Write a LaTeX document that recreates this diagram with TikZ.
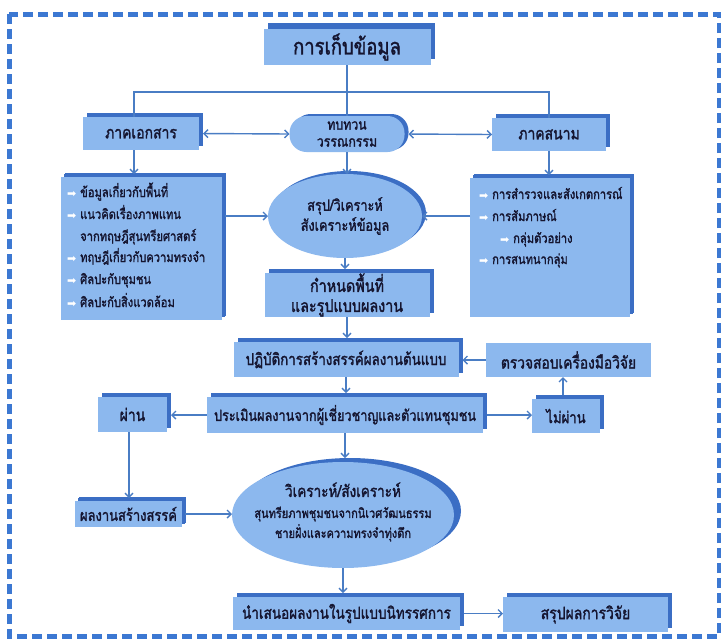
\documentclass[tikz,border=0pt]{standalone}
\usepackage{fontspec}
\newfontfamily\thai[Script=Thai,FakeStretch=0.82,FakeBold=1.6]{Loma}
\newfontfamily\dejavu{DejaVu Sans}
\usetikzlibrary{arrows.meta,shadows,shapes.geometric,calc}
\definecolor{boxblue}{HTML}{8CB8EE}
\definecolor{shadeblue}{HTML}{3B6EC4}
\definecolor{lineblue}{HTML}{4A7DC4}
\definecolor{dashblue}{HTML}{3C78D2}
\definecolor{txt}{HTML}{151530}
\newcommand\blt{\makebox[13pt][l]{\dejavu\fontsize{11}{11}\selectfont\color{white}➡}}
\newcommand\nob{\hspace*{13pt}}
\newcommand\fs[1]{\fontsize{#1}{1.25\dimexpr#1pt\relax}\selectfont}
\begin{document}
\begin{tikzpicture}[x=1pt,y=-1pt,
  base/.style={inner sep=0pt, outer sep=0pt, text=txt, align=center, font=\thai\fs{17}},
  sh/.style 2 args={drop shadow={shadow xshift=#1, shadow yshift=#2, fill=shadeblue, opacity=1}},
  rbox/.style={base, fill=boxblue, sh={4pt}{4pt}},
  flatbox/.style={base, fill=boxblue},
  ell/.style={base, ellipse, fill=boxblue},
  conn/.style={draw=lineblue, line width=1.4pt},
  arr/.style={conn, -{Straight Barb[length=4pt,width=8pt]}},
  darr/.style={conn, {Straight Barb[length=4pt,width=8pt]}-{Straight Barb[length=4pt,width=8pt]}},
  item/.style={anchor=base west, inner sep=0pt, text=txt, font=\thai\fs{13.6}},
]
\fill[white] (0,0) rectangle (721,641);
\useasboundingbox (0,0) rectangle (721,641);
\draw[dashblue, line width=5pt, dash pattern=on 10pt off 5pt] (9,14) rectangle (719,636);

% top row
\node[base, fill=boxblue, sh={4pt}{6pt}, minimum width=167pt, minimum height=36pt,
      font=\thai\fs{22.5}] (title) at (347,47) {การเก็บข้อมูล};
\node[rbox, minimum width=116pt, minimum height=33pt] (doc) at (141,133.5) {ภาคเอกสาร};
\node[base, fill=boxblue, rounded corners=17pt, sh={4pt}{2pt}, minimum width=115pt, minimum height=36pt,
      font=\thai\fontsize{15}{17}\selectfont] (lit) at (347,134) {ทบทวน\\วรรณกรรม};
\node[rbox, minimum width=114pt, minimum height=33pt] (field) at (549,134.5) {ภาคสนาม};

% lists
\node[rbox, sh={3pt}{3pt}, minimum width=161pt, minimum height=143pt] (listL) at (141.5,248.5) {};
\node[rbox, sh={3pt}{3pt}, minimum width=160pt, minimum height=139pt] (listR) at (550,247.5) {};
\node[item] (l1) at (67,197) {\blt ข้อมูลเกี่ยวกับพื้นที่};
\node[item] (l2) at (67,219) {\blt แนวคิดเรื่องภาพแทน};
\node[item] (l3) at (67,241) {\nob จากทฤษฎีสุนทรียศาสตร์};
\node[item] (l4) at (67,262) {\blt ทฤษฎีเกี่ยวกับความทรงจำ};
\node[item] (l5) at (67,284) {\blt ศิลปะกับชุมชน};
\node[item] (l6) at (67,307) {\blt ศิลปะกับสิ่งแวดล้อม};
\node[item] (r1) at (479,199) {\blt การสำรวจและสังเกตการณ์};
\node[item] (r2) at (479,221) {\blt การสัมภาษณ์};
\node[item] (r3) at (500,243) {\blt กลุ่มตัวอย่าง};
\node[item] (r4) at (479,264) {\blt การสนทนากลุ่ม};

% first ellipse
\node[ell, sh={4pt}{3pt}, minimum width=154pt, minimum height=84pt] (e1) at (345,216) {};
\node[base, font=\thai\fontsize{15.5}{20}\selectfont] (e1t) at (345,216) {สรุป/วิเคราะห์\\สังเคราะห์ข้อมูล};

% middle column
\node[rbox, minimum width=165pt, minimum height=44pt, font=\thai\fontsize{17.5}{20}\selectfont] (area) at (347,295) {กำหนดพื้นที่\\และรูปแบบผลงาน};
\node[rbox, minimum width=225pt, minimum height=35pt, font=\thai\fs{16.3}] (proto) at (346,359.5) {ปฏิบัติการสร้างสรรค์ผลงานต้นแบบ};
\node[flatbox, minimum width=165pt, minimum height=34pt, font=\thai\fs{16.8}] (check) at (568.5,360) {ตรวจสอบเครื่องมือวิจัย};
\node[rbox, minimum width=276pt, minimum height=36pt, font=\thai\fs{15.5}] (eval) at (345,415) {ประเมินผลงานจากผู้เชี่ยวชาญและตัวแทนชุมชน};
\node[rbox, minimum width=69pt, minimum height=35pt] (pass) at (132.5,414.5) {ผ่าน};
\node[rbox, minimum width=68pt, minimum height=34pt, font=\thai\fs{16}] (fail) at (566,416) {ไม่ผ่าน};
\node[rbox, sh={3pt}{3pt}, minimum width=107pt, minimum height=26pt, font=\thai\fs{15.8}] (work) at (128.5,514) {ผลงานสร้างสรรค์};

% second ellipse
\node[ell, sh={7pt}{4pt}, minimum width=222pt, minimum height=106pt] (e2) at (343,515) {};
\node[base, font=\thai\fontsize{16.5}{20}\selectfont] (e2t) at (343,512) {วิเคราะห์/สังเคราะห์\\[1pt]
  {\fontsize{13.4}{20}\selectfont สุนทรียภาพชุมชนจากนิเวศวัฒนธรรม}\\
  {\fontsize{13.4}{20}\selectfont ชายฝั่งและความทรงจำทุ่งตึก}};

% bottom row
\node[rbox, minimum width=227pt, minimum height=33pt, font=\thai\fs{16.5}] (present) at (346.5,613.5) {นำเสนอผลงานในรูปแบบนิทรรศการ};
\node[rbox, minimum width=165pt, minimum height=35pt] (concl) at (585.5,614.5) {สรุปผลการวิจัย};

% connectors
\draw[conn] (title.south) -- (lit.north);
\draw[conn] ([xshift=-7pt]doc.north) -- ++(0,-25) -| (field.north);
\draw[darr, shorten <=4pt] (doc.east) -- (lit.west);
\draw[darr, shorten <=4pt] (lit.east) -- (field.west);
\draw[arr, shorten >=3pt] ([xshift=-7pt]doc.south) -- ([xshift=-7pt]doc.south |- listL.north);
\draw[arr] (lit.south) -- (lit.south |- e1.north);
\draw[arr, shorten >=3pt] (field.south) -- (field.south |- listR.north);
\draw[arr, shorten <=3pt] (e1.west -| listL.east) -- (e1.west);
\draw[arr] (e1.east -| listR.west) -- (e1.east);
\draw[arr, shorten >=4pt] (e1.south) -- (e1.south |- area.north);
\draw[arr, shorten >=4pt] (area.south) -- (area.south |- proto.north);
\draw[arr, shorten >=4pt] (check.west) -- (check.west -| proto.east);
\draw[arr, shorten >=4pt] (proto.south) -- (proto.south |- eval.north);
\draw[arr, shorten >=4pt] (eval.west) -- (eval.west -| pass.east);
\draw[arr, shorten <=4pt] (eval.east) -- (eval.east -| fail.west);
\draw[arr, shorten <=4pt] ([xshift=-3pt]fail.north) -- ([xshift=-3pt]fail.north |- check.south);
\draw[arr, shorten >=3pt] ([xshift=-3.5pt]pass.south) -- ([xshift=-3.5pt]pass.south |- work.north);
\draw[arr, shorten <=3pt] (work.east) -- (work.east -| e2.west);
\draw[arr, shorten >=4pt] (eval.south) -- (eval.south |- e2.north);
\draw[arr, shorten >=4pt] (e2.south) -- (e2.south |- present.north);
\draw[arr, shorten <=4pt] (present.east) -- (present.east -| concl.west);
\end{tikzpicture}
\end{document}
